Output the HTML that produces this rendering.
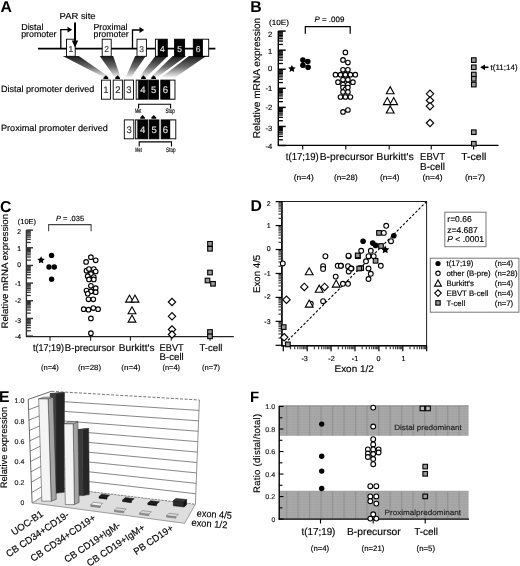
<!DOCTYPE html>
<html><head><meta charset="utf-8"><style>
html,body{margin:0;padding:0;background:#fff;}
svg{display:block;filter:grayscale(1);}
text{font-family:"Liberation Sans",sans-serif;text-rendering:geometricPrecision;}
</style></head><body>
<svg width="520" height="566" viewBox="0 0 520 566" font-family="Liberation Sans, sans-serif">
<rect width="520" height="566" fill="#fff"/>
<text x="0.6" y="11.8" font-size="15.6" font-weight="bold" textLength="11.4" lengthAdjust="spacingAndGlyphs" fill="#000" >A</text>
<text x="59.6" y="19.2" font-size="8.8" textLength="36" lengthAdjust="spacingAndGlyphs" fill="#000" stroke="#000" stroke-width="0.15" >PAR site</text>
<text x="21.2" y="29.9" font-size="8.8" textLength="22.3" lengthAdjust="spacingAndGlyphs" fill="#000" stroke="#000" stroke-width="0.15" >Distal</text>
<text x="21.2" y="37.3" font-size="8.8" textLength="35.3" lengthAdjust="spacingAndGlyphs" fill="#000" stroke="#000" stroke-width="0.15" >promoter</text>
<text x="93.5" y="30.0" font-size="8.8" textLength="34" lengthAdjust="spacingAndGlyphs" fill="#000" stroke="#000" stroke-width="0.15" >Proximal</text>
<text x="93.5" y="37.0" font-size="8.8" textLength="35.3" lengthAdjust="spacingAndGlyphs" fill="#000" stroke="#000" stroke-width="0.15" >promoter</text>
<defs><linearGradient id="shd" x1="0" y1="0" x2="0" y2="1"><stop offset="0" stop-color="#1a1a1a"/><stop offset="0.5" stop-color="#6a6a6a"/><stop offset="1" stop-color="#f4f4f4"/></linearGradient><pattern id="grid" width="3.2" height="3.2" patternUnits="userSpaceOnUse"><rect width="3.2" height="3.2" fill="#a8a8a8"/><path d="M0 0.4H3.2M0.4 0V3.2" stroke="#8a8a8a" stroke-width="0.8"/></pattern></defs>
<polygon points="62.70,56.00 78.80,56.00 109.80,77.50 104.40,77.50" fill="url(#shd)" stroke="none" stroke-width="1" />
<polygon points="99.70,56.00 113.20,56.00 120.60,77.50 115.00,77.50" fill="url(#shd)" stroke="none" stroke-width="1" />
<polygon points="135.20,56.00 145.80,56.00 131.00,77.50 125.60,77.50" fill="url(#shd)" stroke="none" stroke-width="1" />
<polygon points="155.40,56.00 167.90,56.00 146.00,77.50 139.00,77.50" fill="url(#shd)" stroke="none" stroke-width="1" />
<polygon points="172.70,56.00 186.20,56.00 157.00,77.50 150.60,77.50" fill="url(#shd)" stroke="none" stroke-width="1" />
<polygon points="189.00,56.00 206.30,56.00 175.00,77.50 161.00,77.50" fill="url(#shd)" stroke="none" stroke-width="1" />
<line x1="38.00" y1="48.60" x2="215.40" y2="48.60" stroke="#000" stroke-width="1.7" />
<path d="M60.8 48.6 V29.7 H68.5" fill="none" stroke="#000" stroke-width="1.3"/>
<polygon points="67.50,26.80 72.20,29.70 67.50,32.60" fill="#000" stroke="none" stroke-width="1" />
<path d="M132.5 48.6 V30 H140.5" fill="none" stroke="#000" stroke-width="1.3"/>
<polygon points="139.50,27.10 144.20,30.00 139.50,32.90" fill="#000" stroke="none" stroke-width="1" />
<rect x="66.50" y="39.20" width="8.70" height="17.10" fill="#fff" stroke="#000" stroke-width="0.9" />
<text x="70.85" y="51.6" font-size="8.5" text-anchor="middle" fill="#333" stroke="#333" stroke-width="0.15" >1</text>
<rect x="102.20" y="39.20" width="9.00" height="17.10" fill="#fff" stroke="#000" stroke-width="0.9" />
<text x="106.7" y="51.6" font-size="8.5" text-anchor="middle" fill="#333" stroke="#333" stroke-width="0.15" >2</text>
<rect x="137.00" y="39.20" width="9.40" height="17.10" fill="#fff" stroke="#000" stroke-width="0.9" />
<text x="141.7" y="51.6" font-size="8.5" text-anchor="middle" fill="#333" stroke="#333" stroke-width="0.15" >3</text>
<rect x="155.40" y="39.20" width="11.90" height="17.10" fill="#000" stroke="#000" stroke-width="0.9" />
<rect x="155.90" y="39.70" width="1.80" height="16.10" fill="#fff" stroke="none" stroke-width="1" />
<text x="162.35000000000002" y="51.6" font-size="8.5" text-anchor="middle" fill="#e0e0e0" stroke="#e0e0e0" stroke-width="0.15" >4</text>
<rect x="174.60" y="39.20" width="10.00" height="17.10" fill="#000" stroke="#000" stroke-width="0.9" />
<text x="179.6" y="51.6" font-size="8.5" text-anchor="middle" fill="#e0e0e0" stroke="#e0e0e0" stroke-width="0.15" >5</text>
<rect x="193.30" y="39.20" width="15.40" height="17.10" fill="#000" stroke="#000" stroke-width="0.9" />
<rect x="202.90" y="39.70" width="5.30" height="16.10" fill="#fff" stroke="none" stroke-width="1" />
<text x="198" y="51.6" font-size="8.5" text-anchor="middle" fill="#e0e0e0" stroke="#e0e0e0" stroke-width="0.15" >6</text>
<line x1="75.00" y1="22.50" x2="75.00" y2="42.00" stroke="#000" stroke-width="2" />
<polygon points="71.80,40.50 78.20,40.50 75.00,47.50" fill="#000" stroke="none" stroke-width="1" />
<rect x="101.50" y="80.10" width="8.90" height="19.10" fill="#fff" stroke="#000" stroke-width="0.9" />
<text x="105.95" y="93.0" font-size="9.5" text-anchor="middle" fill="#333" stroke="#333" stroke-width="0.15" >1</text>
<rect x="113.20" y="80.10" width="9.20" height="19.10" fill="#fff" stroke="#000" stroke-width="0.9" />
<text x="117.80000000000001" y="93.0" font-size="9.5" text-anchor="middle" fill="#333" stroke="#333" stroke-width="0.15" >2</text>
<rect x="124.20" y="80.10" width="9.30" height="19.10" fill="#fff" stroke="#000" stroke-width="0.9" />
<text x="128.85" y="93.0" font-size="9.5" text-anchor="middle" fill="#333" stroke="#333" stroke-width="0.15" >3</text>
<rect x="136.20" y="80.10" width="11.40" height="19.10" fill="#000" stroke="#000" stroke-width="0.9" />
<rect x="136.60" y="80.60" width="1.60" height="18.10" fill="#ddd" stroke="none" stroke-width="1" />
<text x="142.89999999999998" y="93.0" font-size="9.5" text-anchor="middle" fill="#e0e0e0" stroke="#e0e0e0" stroke-width="0.15" >4</text>
<rect x="148.80" y="80.10" width="9.60" height="19.10" fill="#000" stroke="#000" stroke-width="0.9" />
<text x="153.60000000000002" y="93.0" font-size="9.5" text-anchor="middle" fill="#e0e0e0" stroke="#e0e0e0" stroke-width="0.15" >5</text>
<rect x="160.80" y="80.10" width="14.20" height="19.10" fill="#000" stroke="#000" stroke-width="0.9" />
<rect x="170.20" y="80.60" width="4.30" height="18.10" fill="#fff" stroke="none" stroke-width="1" />
<text x="165.4" y="93.0" font-size="9.5" text-anchor="middle" fill="#e0e0e0" stroke="#e0e0e0" stroke-width="0.15" >6</text>
<polygon points="103.50,78.90 103.50,77.70 105.90,75.30 108.30,77.70 108.30,78.90" fill="#000" stroke="none" stroke-width="1" />
<polygon points="115.20,78.90 115.20,77.70 117.60,75.30 120.00,77.70 120.00,78.90" fill="#000" stroke="none" stroke-width="1" />
<polygon points="141.10,78.90 141.10,77.70 143.50,75.30 145.90,77.70 145.90,78.90" fill="#000" stroke="none" stroke-width="1" />
<polygon points="151.20,78.90 151.20,77.70 153.60,75.30 156.00,77.70 156.00,78.90" fill="#000" stroke="none" stroke-width="1" />
<path d="M138.6 108.6 V104.2 H170.6 V108.6" fill="none" stroke="#000" stroke-width="1.1"/>
<text x="138.1" y="112.6" font-size="6.6" text-anchor="middle" textLength="6.4" lengthAdjust="spacingAndGlyphs" fill="#000" stroke="#000" stroke-width="0.15" >Met</text>
<text x="170.2" y="112.6" font-size="6.6" text-anchor="middle" textLength="9.4" lengthAdjust="spacingAndGlyphs" fill="#000" stroke="#000" stroke-width="0.15" >Stop</text>
<text x="1.0" y="91.5" font-size="9.0" textLength="93.4" lengthAdjust="spacingAndGlyphs" fill="#000" stroke="#000" stroke-width="0.15" >Distal promoter derived</text>
<rect x="124.30" y="119.90" width="9.50" height="18.90" fill="#fff" stroke="#000" stroke-width="0.9" />
<text x="129.05" y="132.6" font-size="9.5" text-anchor="middle" fill="#333" stroke="#333" stroke-width="0.15" >3</text>
<rect x="135.40" y="119.90" width="12.30" height="18.90" fill="#000" stroke="#000" stroke-width="0.9" />
<rect x="135.80" y="120.40" width="1.60" height="17.90" fill="#ddd" stroke="none" stroke-width="1" />
<text x="142.55" y="132.6" font-size="9.5" text-anchor="middle" fill="#e0e0e0" stroke="#e0e0e0" stroke-width="0.15" >4</text>
<rect x="149.20" y="119.90" width="9.70" height="18.90" fill="#000" stroke="#000" stroke-width="0.9" />
<text x="154.05" y="132.6" font-size="9.5" text-anchor="middle" fill="#e0e0e0" stroke="#e0e0e0" stroke-width="0.15" >5</text>
<rect x="161.20" y="119.90" width="14.60" height="18.90" fill="#000" stroke="#000" stroke-width="0.9" />
<rect x="170.20" y="120.40" width="5.10" height="17.90" fill="#fff" stroke="none" stroke-width="1" />
<text x="165.4" y="132.6" font-size="9.5" text-anchor="middle" fill="#e0e0e0" stroke="#e0e0e0" stroke-width="0.15" >6</text>
<polygon points="140.20,118.70 140.20,117.50 142.60,115.10 145.00,117.50 145.00,118.70" fill="#000" stroke="none" stroke-width="1" />
<polygon points="151.40,118.70 151.40,117.50 153.80,115.10 156.20,117.50 156.20,118.70" fill="#000" stroke="none" stroke-width="1" />
<path d="M139.2 146.4 V141.9 H171.5 V146.4" fill="none" stroke="#000" stroke-width="1.1"/>
<text x="138.5" y="152.2" font-size="6.6" text-anchor="middle" textLength="6.4" lengthAdjust="spacingAndGlyphs" fill="#000" stroke="#000" stroke-width="0.15" >Met</text>
<text x="170.8" y="152.2" font-size="6.6" text-anchor="middle" textLength="9.4" lengthAdjust="spacingAndGlyphs" fill="#000" stroke="#000" stroke-width="0.15" >Stop</text>
<text x="1.0" y="131.0" font-size="9.0" textLength="106.9" lengthAdjust="spacingAndGlyphs" fill="#000" stroke="#000" stroke-width="0.15" >Proximal promoter derived</text>
<text x="250.2" y="11.6" font-size="15.8" font-weight="bold" fill="#000" >B</text>
<text x="269" y="24.9" font-size="7.6" textLength="20" lengthAdjust="spacingAndGlyphs" fill="#000" stroke="#000" stroke-width="0.15" >(10E)</text>
<line x1="278.30" y1="31.10" x2="278.30" y2="145.52" stroke="#000" stroke-width="1.4" />
<line x1="278.30" y1="139.78" x2="282.90" y2="139.78" stroke="#000" stroke-width="1.3" />
<line x1="278.30" y1="136.42" x2="282.90" y2="136.42" stroke="#000" stroke-width="1.3" />
<line x1="278.30" y1="134.04" x2="282.90" y2="134.04" stroke="#000" stroke-width="1.3" />
<line x1="278.30" y1="132.19" x2="282.90" y2="132.19" stroke="#000" stroke-width="1.3" />
<line x1="278.30" y1="130.68" x2="282.90" y2="130.68" stroke="#000" stroke-width="1.3" />
<line x1="278.30" y1="129.40" x2="282.90" y2="129.40" stroke="#000" stroke-width="1.3" />
<line x1="278.30" y1="128.30" x2="282.90" y2="128.30" stroke="#000" stroke-width="1.3" />
<line x1="278.30" y1="127.32" x2="282.90" y2="127.32" stroke="#000" stroke-width="1.3" />
<line x1="278.30" y1="120.71" x2="282.90" y2="120.71" stroke="#000" stroke-width="1.3" />
<line x1="278.30" y1="117.35" x2="282.90" y2="117.35" stroke="#000" stroke-width="1.3" />
<line x1="278.30" y1="114.97" x2="282.90" y2="114.97" stroke="#000" stroke-width="1.3" />
<line x1="278.30" y1="113.12" x2="282.90" y2="113.12" stroke="#000" stroke-width="1.3" />
<line x1="278.30" y1="111.61" x2="282.90" y2="111.61" stroke="#000" stroke-width="1.3" />
<line x1="278.30" y1="110.33" x2="282.90" y2="110.33" stroke="#000" stroke-width="1.3" />
<line x1="278.30" y1="109.23" x2="282.90" y2="109.23" stroke="#000" stroke-width="1.3" />
<line x1="278.30" y1="108.25" x2="282.90" y2="108.25" stroke="#000" stroke-width="1.3" />
<line x1="278.30" y1="101.64" x2="282.90" y2="101.64" stroke="#000" stroke-width="1.3" />
<line x1="278.30" y1="98.28" x2="282.90" y2="98.28" stroke="#000" stroke-width="1.3" />
<line x1="278.30" y1="95.90" x2="282.90" y2="95.90" stroke="#000" stroke-width="1.3" />
<line x1="278.30" y1="94.05" x2="282.90" y2="94.05" stroke="#000" stroke-width="1.3" />
<line x1="278.30" y1="92.54" x2="282.90" y2="92.54" stroke="#000" stroke-width="1.3" />
<line x1="278.30" y1="91.26" x2="282.90" y2="91.26" stroke="#000" stroke-width="1.3" />
<line x1="278.30" y1="90.16" x2="282.90" y2="90.16" stroke="#000" stroke-width="1.3" />
<line x1="278.30" y1="89.18" x2="282.90" y2="89.18" stroke="#000" stroke-width="1.3" />
<line x1="278.30" y1="82.57" x2="282.90" y2="82.57" stroke="#000" stroke-width="1.3" />
<line x1="278.30" y1="79.21" x2="282.90" y2="79.21" stroke="#000" stroke-width="1.3" />
<line x1="278.30" y1="76.83" x2="282.90" y2="76.83" stroke="#000" stroke-width="1.3" />
<line x1="278.30" y1="74.98" x2="282.90" y2="74.98" stroke="#000" stroke-width="1.3" />
<line x1="278.30" y1="73.47" x2="282.90" y2="73.47" stroke="#000" stroke-width="1.3" />
<line x1="278.30" y1="72.19" x2="282.90" y2="72.19" stroke="#000" stroke-width="1.3" />
<line x1="278.30" y1="71.09" x2="282.90" y2="71.09" stroke="#000" stroke-width="1.3" />
<line x1="278.30" y1="70.11" x2="282.90" y2="70.11" stroke="#000" stroke-width="1.3" />
<line x1="278.30" y1="63.50" x2="282.90" y2="63.50" stroke="#000" stroke-width="1.3" />
<line x1="278.30" y1="60.14" x2="282.90" y2="60.14" stroke="#000" stroke-width="1.3" />
<line x1="278.30" y1="57.76" x2="282.90" y2="57.76" stroke="#000" stroke-width="1.3" />
<line x1="278.30" y1="55.91" x2="282.90" y2="55.91" stroke="#000" stroke-width="1.3" />
<line x1="278.30" y1="54.40" x2="282.90" y2="54.40" stroke="#000" stroke-width="1.3" />
<line x1="278.30" y1="53.12" x2="282.90" y2="53.12" stroke="#000" stroke-width="1.3" />
<line x1="278.30" y1="52.02" x2="282.90" y2="52.02" stroke="#000" stroke-width="1.3" />
<line x1="278.30" y1="51.04" x2="282.90" y2="51.04" stroke="#000" stroke-width="1.3" />
<line x1="278.30" y1="44.43" x2="282.90" y2="44.43" stroke="#000" stroke-width="1.3" />
<line x1="278.30" y1="41.07" x2="282.90" y2="41.07" stroke="#000" stroke-width="1.3" />
<line x1="278.30" y1="38.69" x2="282.90" y2="38.69" stroke="#000" stroke-width="1.3" />
<line x1="278.30" y1="36.84" x2="282.90" y2="36.84" stroke="#000" stroke-width="1.3" />
<line x1="278.30" y1="35.33" x2="282.90" y2="35.33" stroke="#000" stroke-width="1.3" />
<line x1="278.30" y1="34.05" x2="282.90" y2="34.05" stroke="#000" stroke-width="1.3" />
<line x1="278.30" y1="32.95" x2="282.90" y2="32.95" stroke="#000" stroke-width="1.3" />
<line x1="278.30" y1="31.97" x2="282.90" y2="31.97" stroke="#000" stroke-width="1.3" />
<line x1="278.30" y1="145.52" x2="285.70" y2="145.52" stroke="#000" stroke-width="1.4300000000000002" />
<line x1="278.30" y1="126.45" x2="285.70" y2="126.45" stroke="#000" stroke-width="1.4300000000000002" />
<line x1="278.30" y1="107.38" x2="285.70" y2="107.38" stroke="#000" stroke-width="1.4300000000000002" />
<line x1="278.30" y1="88.31" x2="285.70" y2="88.31" stroke="#000" stroke-width="1.4300000000000002" />
<line x1="278.30" y1="69.24" x2="285.70" y2="69.24" stroke="#000" stroke-width="1.4300000000000002" />
<line x1="278.30" y1="50.17" x2="285.70" y2="50.17" stroke="#000" stroke-width="1.4300000000000002" />
<line x1="278.30" y1="31.10" x2="285.70" y2="31.10" stroke="#000" stroke-width="1.4300000000000002" />
<text x="272.2" y="36.5" font-size="7.6" text-anchor="end" fill="#000" stroke="#000" stroke-width="0.15" >2</text>
<text x="272.2" y="54.1" font-size="7.6" text-anchor="end" fill="#000" stroke="#000" stroke-width="0.15" >1</text>
<text x="272.2" y="71.3" font-size="7.6" text-anchor="end" fill="#000" stroke="#000" stroke-width="0.15" >0</text>
<text x="272.2" y="90.9" font-size="7.6" text-anchor="end" fill="#000" stroke="#000" stroke-width="0.15" >-1</text>
<text x="272.2" y="110.2" font-size="7.6" text-anchor="end" fill="#000" stroke="#000" stroke-width="0.15" >-2</text>
<text x="272.2" y="130.8" font-size="7.6" text-anchor="end" fill="#000" stroke="#000" stroke-width="0.15" >-3</text>
<text x="272.2" y="148.7" font-size="7.6" text-anchor="end" fill="#000" stroke="#000" stroke-width="0.15" >-4</text>
<line x1="277.70" y1="145.40" x2="498.50" y2="145.40" stroke="#000" stroke-width="1.3" />
<line x1="302.70" y1="145.00" x2="302.70" y2="149.50" stroke="#000" stroke-width="1.1" />
<line x1="345.80" y1="145.00" x2="345.80" y2="149.50" stroke="#000" stroke-width="1.1" />
<line x1="389.20" y1="145.00" x2="389.20" y2="149.50" stroke="#000" stroke-width="1.1" />
<line x1="431.20" y1="145.00" x2="431.20" y2="149.50" stroke="#000" stroke-width="1.1" />
<line x1="473.60" y1="145.00" x2="473.60" y2="149.50" stroke="#000" stroke-width="1.1" />
<text x="259.6" y="78" font-size="9.9" text-anchor="middle" textLength="120.5" lengthAdjust="spacingAndGlyphs" transform="rotate(-90 259.6 78)" font-family="Liberation Sans, sans-serif" stroke="#000" stroke-width="0.15">Relative mRNA expression</text>
<path d="M305.3 33.7 V26.6 H350.2 V33.7" fill="none" stroke="#000" stroke-width="1.2"/>
<text x="314.4" y="22.1" font-size="7.8" textLength="30" lengthAdjust="spacingAndGlyphs" font-family="Liberation Sans, sans-serif" stroke="#000" stroke-width="0.15"><tspan font-style="italic">P</tspan> = .009</text>
<polygon points="291.90,64.90 293.05,67.22 295.61,67.59 293.75,69.40 294.19,71.96 291.90,70.75 289.61,71.96 290.05,69.40 288.19,67.59 290.75,67.22" fill="#000" stroke="none" stroke-width="1" />
<circle cx="302.90" cy="60.10" r="2.8" fill="#000"/>
<circle cx="307.80" cy="61.50" r="2.8" fill="#000"/>
<circle cx="302.90" cy="65.30" r="2.8" fill="#000"/>
<circle cx="308.10" cy="67.30" r="2.8" fill="#000"/>
<circle cx="345.40" cy="52.40" r="2.3" fill="#fff" stroke="#000" stroke-width="1.1"/>
<circle cx="343.00" cy="59.90" r="2.3" fill="#fff" stroke="#000" stroke-width="1.1"/>
<circle cx="347.90" cy="62.60" r="2.3" fill="#fff" stroke="#000" stroke-width="1.1"/>
<circle cx="343.00" cy="69.80" r="2.3" fill="#fff" stroke="#000" stroke-width="1.1"/>
<circle cx="347.90" cy="69.80" r="2.3" fill="#fff" stroke="#000" stroke-width="1.1"/>
<circle cx="335.50" cy="74.70" r="2.3" fill="#fff" stroke="#000" stroke-width="1.1"/>
<circle cx="340.50" cy="74.70" r="2.3" fill="#fff" stroke="#000" stroke-width="1.1"/>
<circle cx="345.40" cy="74.70" r="2.3" fill="#fff" stroke="#000" stroke-width="1.1"/>
<circle cx="350.40" cy="74.70" r="2.3" fill="#fff" stroke="#000" stroke-width="1.1"/>
<circle cx="355.30" cy="74.70" r="2.3" fill="#fff" stroke="#000" stroke-width="1.1"/>
<circle cx="343.00" cy="79.70" r="2.3" fill="#fff" stroke="#000" stroke-width="1.1"/>
<circle cx="347.90" cy="79.70" r="2.3" fill="#fff" stroke="#000" stroke-width="1.1"/>
<circle cx="338.00" cy="82.20" r="2.3" fill="#fff" stroke="#000" stroke-width="1.1"/>
<circle cx="352.90" cy="82.20" r="2.3" fill="#fff" stroke="#000" stroke-width="1.1"/>
<circle cx="343.00" cy="84.60" r="2.3" fill="#fff" stroke="#000" stroke-width="1.1"/>
<circle cx="347.90" cy="84.60" r="2.3" fill="#fff" stroke="#000" stroke-width="1.1"/>
<circle cx="343.00" cy="87.50" r="2.3" fill="#fff" stroke="#000" stroke-width="1.1"/>
<circle cx="345.40" cy="89.50" r="2.3" fill="#fff" stroke="#000" stroke-width="1.1"/>
<circle cx="347.90" cy="87.50" r="2.3" fill="#fff" stroke="#000" stroke-width="1.1"/>
<circle cx="343.00" cy="92.00" r="2.3" fill="#fff" stroke="#000" stroke-width="1.1"/>
<circle cx="347.90" cy="92.00" r="2.3" fill="#fff" stroke="#000" stroke-width="1.1"/>
<circle cx="340.50" cy="97.00" r="2.3" fill="#fff" stroke="#000" stroke-width="1.1"/>
<circle cx="345.40" cy="97.00" r="2.3" fill="#fff" stroke="#000" stroke-width="1.1"/>
<circle cx="350.40" cy="97.00" r="2.3" fill="#fff" stroke="#000" stroke-width="1.1"/>
<circle cx="343.00" cy="111.90" r="2.3" fill="#fff" stroke="#000" stroke-width="1.1"/>
<circle cx="347.90" cy="110.00" r="2.3" fill="#fff" stroke="#000" stroke-width="1.1"/>
<polygon points="386.30,93.72 394.10,93.72 390.20,86.70" fill="#fff" stroke="#000" stroke-width="1.1" />
<polygon points="383.40,104.61 391.20,104.61 387.30,97.59" fill="#fff" stroke="#000" stroke-width="1.1" />
<polygon points="389.80,104.61 397.60,104.61 393.70,97.59" fill="#fff" stroke="#000" stroke-width="1.1" />
<polygon points="386.30,113.02 394.10,113.02 390.20,106.00" fill="#fff" stroke="#000" stroke-width="1.1" />
<polygon points="426.30,93.80 430.00,90.10 433.70,93.80 430.00,97.50" fill="#fff" stroke="#000" stroke-width="1.1" />
<polygon points="426.30,100.50 430.00,96.80 433.70,100.50 430.00,104.20" fill="#fff" stroke="#000" stroke-width="1.1" />
<polygon points="426.30,106.20 430.00,102.50 433.70,106.20 430.00,109.90" fill="#fff" stroke="#000" stroke-width="1.1" />
<polygon points="426.30,123.00 430.00,119.30 433.70,123.00 430.00,126.70" fill="#fff" stroke="#000" stroke-width="1.1" />
<rect x="471.50" y="57.80" width="4.60" height="4.60" fill="#999" stroke="#000" stroke-width="1.1" />
<rect x="471.50" y="65.00" width="4.60" height="4.60" fill="#999" stroke="#000" stroke-width="1.1" />
<rect x="471.50" y="72.20" width="4.60" height="4.60" fill="#999" stroke="#000" stroke-width="1.1" />
<rect x="471.50" y="76.50" width="4.60" height="4.60" fill="#999" stroke="#000" stroke-width="1.1" />
<rect x="471.50" y="82.30" width="4.60" height="4.60" fill="#999" stroke="#000" stroke-width="1.1" />
<rect x="471.50" y="129.90" width="4.60" height="4.60" fill="#999" stroke="#000" stroke-width="1.1" />
<rect x="471.50" y="141.40" width="4.60" height="4.60" fill="#999" stroke="#000" stroke-width="1.1" />
<line x1="482.50" y1="67.30" x2="488.50" y2="67.30" stroke="#000" stroke-width="1.6" />
<polygon points="480.20,67.30 485.00,64.40 485.00,70.20" fill="#000" stroke="none" stroke-width="1" />
<text x="490.6" y="70.0" font-size="7.8" textLength="27" lengthAdjust="spacingAndGlyphs" fill="#000" stroke="#000" stroke-width="0.15" >t(11;14)</text>
<text x="285.8" y="160.2" font-size="10.2" textLength="33" lengthAdjust="spacingAndGlyphs" fill="#000" stroke="#000" stroke-width="0.15" >t(17;19)</text>
<text x="319.7" y="160.2" font-size="10.2" textLength="53.8" lengthAdjust="spacingAndGlyphs" fill="#000" stroke="#000" stroke-width="0.15" >B-precursor</text>
<text x="376.3" y="160.2" font-size="10.2" textLength="37.5" lengthAdjust="spacingAndGlyphs" fill="#000" stroke="#000" stroke-width="0.15" >Burkitt's</text>
<text x="420" y="160.2" font-size="10.2" textLength="25" lengthAdjust="spacingAndGlyphs" fill="#000" stroke="#000" stroke-width="0.15" >EBVT</text>
<text x="461.3" y="160.2" font-size="10.2" textLength="25" lengthAdjust="spacingAndGlyphs" fill="#000" stroke="#000" stroke-width="0.15" >T-cell</text>
<text x="420" y="170.2" font-size="10.2" textLength="25" lengthAdjust="spacingAndGlyphs" fill="#000" stroke="#000" stroke-width="0.15" >B-cell</text>
<text x="293.8" y="180.3" font-size="7.8" textLength="20" lengthAdjust="spacingAndGlyphs" fill="#000" stroke="#000" stroke-width="0.15" >(n=4)</text>
<text x="334" y="180.3" font-size="7.8" textLength="23.7" lengthAdjust="spacingAndGlyphs" fill="#000" stroke="#000" stroke-width="0.15" >(n=28)</text>
<text x="380" y="180.3" font-size="7.8" textLength="19.5" lengthAdjust="spacingAndGlyphs" fill="#000" stroke="#000" stroke-width="0.15" >(n=4)</text>
<text x="422.5" y="180.3" font-size="7.8" textLength="20" lengthAdjust="spacingAndGlyphs" fill="#000" stroke="#000" stroke-width="0.15" >(n=4)</text>
<text x="465" y="180.3" font-size="7.8" textLength="20" lengthAdjust="spacingAndGlyphs" fill="#000" stroke="#000" stroke-width="0.15" >(n=7)</text>
<text x="0.0" y="211.6" font-size="15.8" font-weight="bold" fill="#000" >C</text>
<text x="17.8" y="224.2" font-size="7.2" textLength="18.3" lengthAdjust="spacingAndGlyphs" fill="#000" stroke="#000" stroke-width="0.15" >(10E)</text>
<line x1="26.40" y1="230.10" x2="26.40" y2="336.12" stroke="#333" stroke-width="1.4" />
<line x1="26.40" y1="330.80" x2="30.80" y2="330.80" stroke="#333" stroke-width="1.3" />
<line x1="26.40" y1="327.69" x2="30.80" y2="327.69" stroke="#333" stroke-width="1.3" />
<line x1="26.40" y1="325.48" x2="30.80" y2="325.48" stroke="#333" stroke-width="1.3" />
<line x1="26.40" y1="323.77" x2="30.80" y2="323.77" stroke="#333" stroke-width="1.3" />
<line x1="26.40" y1="322.37" x2="30.80" y2="322.37" stroke="#333" stroke-width="1.3" />
<line x1="26.40" y1="321.19" x2="30.80" y2="321.19" stroke="#333" stroke-width="1.3" />
<line x1="26.40" y1="320.16" x2="30.80" y2="320.16" stroke="#333" stroke-width="1.3" />
<line x1="26.40" y1="319.26" x2="30.80" y2="319.26" stroke="#333" stroke-width="1.3" />
<line x1="26.40" y1="313.13" x2="30.80" y2="313.13" stroke="#333" stroke-width="1.3" />
<line x1="26.40" y1="310.02" x2="30.80" y2="310.02" stroke="#333" stroke-width="1.3" />
<line x1="26.40" y1="307.81" x2="30.80" y2="307.81" stroke="#333" stroke-width="1.3" />
<line x1="26.40" y1="306.10" x2="30.80" y2="306.10" stroke="#333" stroke-width="1.3" />
<line x1="26.40" y1="304.70" x2="30.80" y2="304.70" stroke="#333" stroke-width="1.3" />
<line x1="26.40" y1="303.52" x2="30.80" y2="303.52" stroke="#333" stroke-width="1.3" />
<line x1="26.40" y1="302.49" x2="30.80" y2="302.49" stroke="#333" stroke-width="1.3" />
<line x1="26.40" y1="301.59" x2="30.80" y2="301.59" stroke="#333" stroke-width="1.3" />
<line x1="26.40" y1="295.46" x2="30.80" y2="295.46" stroke="#333" stroke-width="1.3" />
<line x1="26.40" y1="292.35" x2="30.80" y2="292.35" stroke="#333" stroke-width="1.3" />
<line x1="26.40" y1="290.14" x2="30.80" y2="290.14" stroke="#333" stroke-width="1.3" />
<line x1="26.40" y1="288.43" x2="30.80" y2="288.43" stroke="#333" stroke-width="1.3" />
<line x1="26.40" y1="287.03" x2="30.80" y2="287.03" stroke="#333" stroke-width="1.3" />
<line x1="26.40" y1="285.85" x2="30.80" y2="285.85" stroke="#333" stroke-width="1.3" />
<line x1="26.40" y1="284.82" x2="30.80" y2="284.82" stroke="#333" stroke-width="1.3" />
<line x1="26.40" y1="283.92" x2="30.80" y2="283.92" stroke="#333" stroke-width="1.3" />
<line x1="26.40" y1="277.79" x2="30.80" y2="277.79" stroke="#333" stroke-width="1.3" />
<line x1="26.40" y1="274.68" x2="30.80" y2="274.68" stroke="#333" stroke-width="1.3" />
<line x1="26.40" y1="272.47" x2="30.80" y2="272.47" stroke="#333" stroke-width="1.3" />
<line x1="26.40" y1="270.76" x2="30.80" y2="270.76" stroke="#333" stroke-width="1.3" />
<line x1="26.40" y1="269.36" x2="30.80" y2="269.36" stroke="#333" stroke-width="1.3" />
<line x1="26.40" y1="268.18" x2="30.80" y2="268.18" stroke="#333" stroke-width="1.3" />
<line x1="26.40" y1="267.15" x2="30.80" y2="267.15" stroke="#333" stroke-width="1.3" />
<line x1="26.40" y1="266.25" x2="30.80" y2="266.25" stroke="#333" stroke-width="1.3" />
<line x1="26.40" y1="260.12" x2="30.80" y2="260.12" stroke="#333" stroke-width="1.3" />
<line x1="26.40" y1="257.01" x2="30.80" y2="257.01" stroke="#333" stroke-width="1.3" />
<line x1="26.40" y1="254.80" x2="30.80" y2="254.80" stroke="#333" stroke-width="1.3" />
<line x1="26.40" y1="253.09" x2="30.80" y2="253.09" stroke="#333" stroke-width="1.3" />
<line x1="26.40" y1="251.69" x2="30.80" y2="251.69" stroke="#333" stroke-width="1.3" />
<line x1="26.40" y1="250.51" x2="30.80" y2="250.51" stroke="#333" stroke-width="1.3" />
<line x1="26.40" y1="249.48" x2="30.80" y2="249.48" stroke="#333" stroke-width="1.3" />
<line x1="26.40" y1="248.58" x2="30.80" y2="248.58" stroke="#333" stroke-width="1.3" />
<line x1="26.40" y1="242.45" x2="30.80" y2="242.45" stroke="#333" stroke-width="1.3" />
<line x1="26.40" y1="239.34" x2="30.80" y2="239.34" stroke="#333" stroke-width="1.3" />
<line x1="26.40" y1="237.13" x2="30.80" y2="237.13" stroke="#333" stroke-width="1.3" />
<line x1="26.40" y1="235.42" x2="30.80" y2="235.42" stroke="#333" stroke-width="1.3" />
<line x1="26.40" y1="234.02" x2="30.80" y2="234.02" stroke="#333" stroke-width="1.3" />
<line x1="26.40" y1="232.84" x2="30.80" y2="232.84" stroke="#333" stroke-width="1.3" />
<line x1="26.40" y1="231.81" x2="30.80" y2="231.81" stroke="#333" stroke-width="1.3" />
<line x1="26.40" y1="230.91" x2="30.80" y2="230.91" stroke="#333" stroke-width="1.3" />
<line x1="26.40" y1="336.12" x2="33.00" y2="336.12" stroke="#333" stroke-width="1.4300000000000002" />
<line x1="26.40" y1="318.45" x2="33.00" y2="318.45" stroke="#333" stroke-width="1.4300000000000002" />
<line x1="26.40" y1="300.78" x2="33.00" y2="300.78" stroke="#333" stroke-width="1.4300000000000002" />
<line x1="26.40" y1="283.11" x2="33.00" y2="283.11" stroke="#333" stroke-width="1.4300000000000002" />
<line x1="26.40" y1="265.44" x2="33.00" y2="265.44" stroke="#333" stroke-width="1.4300000000000002" />
<line x1="26.40" y1="247.77" x2="33.00" y2="247.77" stroke="#333" stroke-width="1.4300000000000002" />
<line x1="26.40" y1="230.10" x2="33.00" y2="230.10" stroke="#333" stroke-width="1.4300000000000002" />
<text x="21.0" y="234.4" font-size="6.8" text-anchor="end" fill="#000" stroke="#000" stroke-width="0.15" >2</text>
<text x="21.0" y="250.6" font-size="6.8" text-anchor="end" fill="#000" stroke="#000" stroke-width="0.15" >1</text>
<text x="21.0" y="266.8" font-size="6.8" text-anchor="end" fill="#000" stroke="#000" stroke-width="0.15" >0</text>
<text x="21.0" y="286.1" font-size="6.8" text-anchor="end" fill="#000" stroke="#000" stroke-width="0.15" >-1</text>
<text x="21.0" y="303.3" font-size="6.8" text-anchor="end" fill="#000" stroke="#000" stroke-width="0.15" >-2</text>
<text x="21.0" y="322.6" font-size="6.8" text-anchor="end" fill="#000" stroke="#000" stroke-width="0.15" >-3</text>
<text x="21.0" y="338.8" font-size="6.8" text-anchor="end" fill="#000" stroke="#000" stroke-width="0.15" >-4</text>
<line x1="25.80" y1="336.60" x2="233.80" y2="336.60" stroke="#222" stroke-width="1.3" />
<line x1="50.00" y1="336.60" x2="50.00" y2="340.80" stroke="#222" stroke-width="1.1" />
<line x1="90.60" y1="336.60" x2="90.60" y2="340.80" stroke="#222" stroke-width="1.1" />
<line x1="130.40" y1="336.60" x2="130.40" y2="340.80" stroke="#222" stroke-width="1.1" />
<line x1="171.30" y1="336.60" x2="171.30" y2="340.80" stroke="#222" stroke-width="1.1" />
<line x1="210.00" y1="336.60" x2="210.00" y2="340.80" stroke="#222" stroke-width="1.1" />
<text x="8" y="271.2" font-size="9.4" text-anchor="middle" textLength="114.5" lengthAdjust="spacingAndGlyphs" transform="rotate(-90 8 271.2)" font-family="Liberation Sans, sans-serif" stroke="#000" stroke-width="0.15">Relative mRNA expression</text>
<path d="M48.65 231.3 V224.65 H91.1 V231.3" fill="none" stroke="#444" stroke-width="1.1"/>
<text x="55.9" y="221" font-size="7.4" textLength="28.3" lengthAdjust="spacingAndGlyphs" font-family="Liberation Sans, sans-serif" stroke="#000" stroke-width="0.15"><tspan font-style="italic">P</tspan> = .035</text>
<polygon points="41.10,256.30 42.25,258.62 44.81,258.99 42.95,260.80 43.39,263.36 41.10,262.15 38.81,263.36 39.25,260.80 37.39,258.99 39.95,258.62" fill="#000" stroke="none" stroke-width="1" />
<circle cx="51.60" cy="255.40" r="2.7" fill="#000"/>
<circle cx="49.00" cy="267.00" r="2.7" fill="#000"/>
<circle cx="54.30" cy="267.00" r="2.7" fill="#000"/>
<circle cx="51.60" cy="279.20" r="2.7" fill="#000"/>
<circle cx="90.90" cy="257.20" r="2.3" fill="#fff" stroke="#000" stroke-width="1.1"/>
<circle cx="86.10" cy="261.90" r="2.3" fill="#fff" stroke="#000" stroke-width="1.1"/>
<circle cx="95.70" cy="260.30" r="2.3" fill="#fff" stroke="#000" stroke-width="1.1"/>
<circle cx="86.50" cy="270.70" r="2.3" fill="#fff" stroke="#000" stroke-width="1.1"/>
<circle cx="89.00" cy="269.00" r="2.3" fill="#fff" stroke="#000" stroke-width="1.1"/>
<circle cx="93.80" cy="269.00" r="2.3" fill="#fff" stroke="#000" stroke-width="1.1"/>
<circle cx="95.70" cy="271.50" r="2.3" fill="#fff" stroke="#000" stroke-width="1.1"/>
<circle cx="90.90" cy="273.90" r="2.3" fill="#fff" stroke="#000" stroke-width="1.1"/>
<circle cx="87.70" cy="276.20" r="2.3" fill="#fff" stroke="#000" stroke-width="1.1"/>
<circle cx="93.80" cy="277.00" r="2.3" fill="#fff" stroke="#000" stroke-width="1.1"/>
<circle cx="89.00" cy="279.40" r="2.3" fill="#fff" stroke="#000" stroke-width="1.1"/>
<circle cx="93.80" cy="279.40" r="2.3" fill="#fff" stroke="#000" stroke-width="1.1"/>
<circle cx="90.90" cy="285.80" r="2.3" fill="#fff" stroke="#000" stroke-width="1.1"/>
<circle cx="95.70" cy="288.20" r="2.3" fill="#fff" stroke="#000" stroke-width="1.1"/>
<circle cx="86.50" cy="290.50" r="2.3" fill="#fff" stroke="#000" stroke-width="1.1"/>
<circle cx="90.90" cy="291.40" r="2.3" fill="#fff" stroke="#000" stroke-width="1.1"/>
<circle cx="95.70" cy="292.20" r="2.3" fill="#fff" stroke="#000" stroke-width="1.1"/>
<circle cx="87.70" cy="293.70" r="2.3" fill="#fff" stroke="#000" stroke-width="1.1"/>
<circle cx="88.50" cy="299.30" r="2.3" fill="#fff" stroke="#000" stroke-width="1.1"/>
<circle cx="93.30" cy="299.30" r="2.3" fill="#fff" stroke="#000" stroke-width="1.1"/>
<circle cx="83.70" cy="309.20" r="2.3" fill="#fff" stroke="#000" stroke-width="1.1"/>
<circle cx="88.50" cy="309.70" r="2.3" fill="#fff" stroke="#000" stroke-width="1.1"/>
<circle cx="93.30" cy="308.10" r="2.3" fill="#fff" stroke="#000" stroke-width="1.1"/>
<circle cx="98.10" cy="309.20" r="2.3" fill="#fff" stroke="#000" stroke-width="1.1"/>
<circle cx="90.90" cy="318.40" r="2.3" fill="#fff" stroke="#000" stroke-width="1.1"/>
<circle cx="90.90" cy="333.20" r="2.3" fill="#fff" stroke="#000" stroke-width="1.1"/>
<polygon points="125.60,302.12 133.40,302.12 129.50,295.10" fill="#fff" stroke="#000" stroke-width="1.1" />
<polygon points="131.10,302.12 138.90,302.12 135.00,295.10" fill="#fff" stroke="#000" stroke-width="1.1" />
<polygon points="128.10,313.81 135.90,313.81 132.00,306.80" fill="#fff" stroke="#000" stroke-width="1.1" />
<polygon points="128.10,322.12 135.90,322.12 132.00,315.10" fill="#fff" stroke="#000" stroke-width="1.1" />
<polygon points="168.30,302.00 172.00,298.30 175.70,302.00 172.00,305.70" fill="#fff" stroke="#000" stroke-width="1.1" />
<polygon points="168.30,316.30 172.00,312.60 175.70,316.30 172.00,320.00" fill="#fff" stroke="#000" stroke-width="1.1" />
<polygon points="168.30,329.50 172.00,325.80 175.70,329.50 172.00,333.20" fill="#fff" stroke="#000" stroke-width="1.1" />
<polygon points="168.30,334.50 172.00,330.80 175.70,334.50 172.00,338.20" fill="#fff" stroke="#000" stroke-width="1.1" />
<rect x="207.70" y="241.50" width="4.60" height="4.60" fill="#999" stroke="#000" stroke-width="1.1" />
<rect x="207.70" y="246.50" width="4.60" height="4.60" fill="#999" stroke="#000" stroke-width="1.1" />
<rect x="207.70" y="270.20" width="4.60" height="4.60" fill="#999" stroke="#000" stroke-width="1.1" />
<rect x="205.20" y="278.20" width="4.60" height="4.60" fill="#999" stroke="#000" stroke-width="1.1" />
<rect x="210.70" y="281.50" width="4.60" height="4.60" fill="#999" stroke="#000" stroke-width="1.1" />
<rect x="207.70" y="329.70" width="4.60" height="4.60" fill="#999" stroke="#000" stroke-width="1.1" />
<rect x="207.70" y="334.00" width="4.60" height="4.60" fill="#999" stroke="#000" stroke-width="1.1" />
<text x="33" y="351.0" font-size="9.8" textLength="31.1" lengthAdjust="spacingAndGlyphs" fill="#000" stroke="#000" stroke-width="0.15" >t(17;19)</text>
<text x="64.8" y="351.0" font-size="9.8" textLength="50.1" lengthAdjust="spacingAndGlyphs" fill="#000" stroke="#000" stroke-width="0.15" >B-precursor</text>
<text x="118.75" y="351.0" font-size="9.8" textLength="35.75" lengthAdjust="spacingAndGlyphs" fill="#000" stroke="#000" stroke-width="0.15" >Burkitt's</text>
<text x="159.5" y="351.0" font-size="9.8" textLength="24.25" lengthAdjust="spacingAndGlyphs" fill="#000" stroke="#000" stroke-width="0.15" >EBVT</text>
<text x="199.5" y="351.0" font-size="9.8" textLength="23" lengthAdjust="spacingAndGlyphs" fill="#000" stroke="#000" stroke-width="0.15" >T-cell</text>
<text x="159.5" y="360.2" font-size="9.8" textLength="24.25" lengthAdjust="spacingAndGlyphs" fill="#000" stroke="#000" stroke-width="0.15" >B-cell</text>
<text x="40.9" y="370.0" font-size="7.5" textLength="17.9" lengthAdjust="spacingAndGlyphs" fill="#000" stroke="#000" stroke-width="0.15" >(n=4)</text>
<text x="77.9" y="370.0" font-size="7.5" textLength="23.3" lengthAdjust="spacingAndGlyphs" fill="#000" stroke="#000" stroke-width="0.15" >(n=28)</text>
<text x="121.25" y="370.0" font-size="7.5" textLength="19.25" lengthAdjust="spacingAndGlyphs" fill="#000" stroke="#000" stroke-width="0.15" >(n=4)</text>
<text x="162.5" y="370.0" font-size="7.5" textLength="17.5" lengthAdjust="spacingAndGlyphs" fill="#000" stroke="#000" stroke-width="0.15" >(n=4)</text>
<text x="202" y="370.0" font-size="7.5" textLength="18" lengthAdjust="spacingAndGlyphs" fill="#000" stroke="#000" stroke-width="0.15" >(n=7)</text>
<text x="250.6" y="211.4" font-size="15.8" font-weight="bold" fill="#000" >D</text>
<rect x="281.90" y="201.50" width="144.70" height="144.10" fill="none" stroke="#222" stroke-width="1.0" />
<line x1="281.90" y1="201.00" x2="281.90" y2="346.30" stroke="#000" stroke-width="1.5" />
<line x1="281.20" y1="345.80" x2="427.00" y2="345.80" stroke="#000" stroke-width="1.5" />
<line x1="281.90" y1="338.09" x2="278.40" y2="338.09" stroke="#444" stroke-width="1.2" />
<line x1="281.90" y1="333.87" x2="278.40" y2="333.87" stroke="#444" stroke-width="1.2" />
<line x1="281.90" y1="330.88" x2="278.40" y2="330.88" stroke="#444" stroke-width="1.2" />
<line x1="281.90" y1="328.56" x2="278.40" y2="328.56" stroke="#444" stroke-width="1.2" />
<line x1="281.90" y1="326.66" x2="278.40" y2="326.66" stroke="#444" stroke-width="1.2" />
<line x1="281.90" y1="325.06" x2="278.40" y2="325.06" stroke="#444" stroke-width="1.2" />
<line x1="281.90" y1="323.67" x2="278.40" y2="323.67" stroke="#444" stroke-width="1.2" />
<line x1="281.90" y1="322.45" x2="278.40" y2="322.45" stroke="#444" stroke-width="1.2" />
<line x1="281.90" y1="314.14" x2="278.40" y2="314.14" stroke="#444" stroke-width="1.2" />
<line x1="281.90" y1="309.92" x2="278.40" y2="309.92" stroke="#444" stroke-width="1.2" />
<line x1="281.90" y1="306.93" x2="278.40" y2="306.93" stroke="#444" stroke-width="1.2" />
<line x1="281.90" y1="304.61" x2="278.40" y2="304.61" stroke="#444" stroke-width="1.2" />
<line x1="281.90" y1="302.71" x2="278.40" y2="302.71" stroke="#444" stroke-width="1.2" />
<line x1="281.90" y1="301.11" x2="278.40" y2="301.11" stroke="#444" stroke-width="1.2" />
<line x1="281.90" y1="299.72" x2="278.40" y2="299.72" stroke="#444" stroke-width="1.2" />
<line x1="281.90" y1="298.50" x2="278.40" y2="298.50" stroke="#444" stroke-width="1.2" />
<line x1="281.90" y1="290.19" x2="278.40" y2="290.19" stroke="#444" stroke-width="1.2" />
<line x1="281.90" y1="285.97" x2="278.40" y2="285.97" stroke="#444" stroke-width="1.2" />
<line x1="281.90" y1="282.98" x2="278.40" y2="282.98" stroke="#444" stroke-width="1.2" />
<line x1="281.90" y1="280.66" x2="278.40" y2="280.66" stroke="#444" stroke-width="1.2" />
<line x1="281.90" y1="278.76" x2="278.40" y2="278.76" stroke="#444" stroke-width="1.2" />
<line x1="281.90" y1="277.16" x2="278.40" y2="277.16" stroke="#444" stroke-width="1.2" />
<line x1="281.90" y1="275.77" x2="278.40" y2="275.77" stroke="#444" stroke-width="1.2" />
<line x1="281.90" y1="274.55" x2="278.40" y2="274.55" stroke="#444" stroke-width="1.2" />
<line x1="281.90" y1="266.24" x2="278.40" y2="266.24" stroke="#444" stroke-width="1.2" />
<line x1="281.90" y1="262.02" x2="278.40" y2="262.02" stroke="#444" stroke-width="1.2" />
<line x1="281.90" y1="259.03" x2="278.40" y2="259.03" stroke="#444" stroke-width="1.2" />
<line x1="281.90" y1="256.71" x2="278.40" y2="256.71" stroke="#444" stroke-width="1.2" />
<line x1="281.90" y1="254.81" x2="278.40" y2="254.81" stroke="#444" stroke-width="1.2" />
<line x1="281.90" y1="253.21" x2="278.40" y2="253.21" stroke="#444" stroke-width="1.2" />
<line x1="281.90" y1="251.82" x2="278.40" y2="251.82" stroke="#444" stroke-width="1.2" />
<line x1="281.90" y1="250.60" x2="278.40" y2="250.60" stroke="#444" stroke-width="1.2" />
<line x1="281.90" y1="242.29" x2="278.40" y2="242.29" stroke="#444" stroke-width="1.2" />
<line x1="281.90" y1="238.07" x2="278.40" y2="238.07" stroke="#444" stroke-width="1.2" />
<line x1="281.90" y1="235.08" x2="278.40" y2="235.08" stroke="#444" stroke-width="1.2" />
<line x1="281.90" y1="232.76" x2="278.40" y2="232.76" stroke="#444" stroke-width="1.2" />
<line x1="281.90" y1="230.86" x2="278.40" y2="230.86" stroke="#444" stroke-width="1.2" />
<line x1="281.90" y1="229.26" x2="278.40" y2="229.26" stroke="#444" stroke-width="1.2" />
<line x1="281.90" y1="227.87" x2="278.40" y2="227.87" stroke="#444" stroke-width="1.2" />
<line x1="281.90" y1="226.65" x2="278.40" y2="226.65" stroke="#444" stroke-width="1.2" />
<line x1="281.90" y1="218.34" x2="278.40" y2="218.34" stroke="#444" stroke-width="1.2" />
<line x1="281.90" y1="214.12" x2="278.40" y2="214.12" stroke="#444" stroke-width="1.2" />
<line x1="281.90" y1="211.13" x2="278.40" y2="211.13" stroke="#444" stroke-width="1.2" />
<line x1="281.90" y1="208.81" x2="278.40" y2="208.81" stroke="#444" stroke-width="1.2" />
<line x1="281.90" y1="206.91" x2="278.40" y2="206.91" stroke="#444" stroke-width="1.2" />
<line x1="281.90" y1="205.31" x2="278.40" y2="205.31" stroke="#444" stroke-width="1.2" />
<line x1="281.90" y1="203.92" x2="278.40" y2="203.92" stroke="#444" stroke-width="1.2" />
<line x1="281.90" y1="202.70" x2="278.40" y2="202.70" stroke="#444" stroke-width="1.2" />
<line x1="281.90" y1="345.30" x2="275.60" y2="345.30" stroke="#000" stroke-width="1.2" />
<line x1="281.90" y1="321.35" x2="275.60" y2="321.35" stroke="#000" stroke-width="1.2" />
<line x1="281.90" y1="297.40" x2="275.60" y2="297.40" stroke="#000" stroke-width="1.2" />
<line x1="281.90" y1="273.45" x2="275.60" y2="273.45" stroke="#000" stroke-width="1.2" />
<line x1="281.90" y1="249.50" x2="275.60" y2="249.50" stroke="#000" stroke-width="1.2" />
<line x1="281.90" y1="225.55" x2="275.60" y2="225.55" stroke="#000" stroke-width="1.2" />
<line x1="281.90" y1="201.60" x2="275.60" y2="201.60" stroke="#000" stroke-width="1.2" />
<line x1="290.49" y1="345.80" x2="290.49" y2="349.30" stroke="#444" stroke-width="1.2" />
<line x1="294.70" y1="345.80" x2="294.70" y2="349.30" stroke="#444" stroke-width="1.2" />
<line x1="297.69" y1="345.80" x2="297.69" y2="349.30" stroke="#444" stroke-width="1.2" />
<line x1="300.01" y1="345.80" x2="300.01" y2="349.30" stroke="#444" stroke-width="1.2" />
<line x1="301.90" y1="345.80" x2="301.90" y2="349.30" stroke="#444" stroke-width="1.2" />
<line x1="303.50" y1="345.80" x2="303.50" y2="349.30" stroke="#444" stroke-width="1.2" />
<line x1="304.88" y1="345.80" x2="304.88" y2="349.30" stroke="#444" stroke-width="1.2" />
<line x1="306.11" y1="345.80" x2="306.11" y2="349.30" stroke="#444" stroke-width="1.2" />
<line x1="314.39" y1="345.80" x2="314.39" y2="349.30" stroke="#444" stroke-width="1.2" />
<line x1="318.60" y1="345.80" x2="318.60" y2="349.30" stroke="#444" stroke-width="1.2" />
<line x1="321.59" y1="345.80" x2="321.59" y2="349.30" stroke="#444" stroke-width="1.2" />
<line x1="323.91" y1="345.80" x2="323.91" y2="349.30" stroke="#444" stroke-width="1.2" />
<line x1="325.80" y1="345.80" x2="325.80" y2="349.30" stroke="#444" stroke-width="1.2" />
<line x1="327.40" y1="345.80" x2="327.40" y2="349.30" stroke="#444" stroke-width="1.2" />
<line x1="328.78" y1="345.80" x2="328.78" y2="349.30" stroke="#444" stroke-width="1.2" />
<line x1="330.01" y1="345.80" x2="330.01" y2="349.30" stroke="#444" stroke-width="1.2" />
<line x1="338.29" y1="345.80" x2="338.29" y2="349.30" stroke="#444" stroke-width="1.2" />
<line x1="342.50" y1="345.80" x2="342.50" y2="349.30" stroke="#444" stroke-width="1.2" />
<line x1="345.49" y1="345.80" x2="345.49" y2="349.30" stroke="#444" stroke-width="1.2" />
<line x1="347.81" y1="345.80" x2="347.81" y2="349.30" stroke="#444" stroke-width="1.2" />
<line x1="349.70" y1="345.80" x2="349.70" y2="349.30" stroke="#444" stroke-width="1.2" />
<line x1="351.30" y1="345.80" x2="351.30" y2="349.30" stroke="#444" stroke-width="1.2" />
<line x1="352.68" y1="345.80" x2="352.68" y2="349.30" stroke="#444" stroke-width="1.2" />
<line x1="353.91" y1="345.80" x2="353.91" y2="349.30" stroke="#444" stroke-width="1.2" />
<line x1="362.19" y1="345.80" x2="362.19" y2="349.30" stroke="#444" stroke-width="1.2" />
<line x1="366.40" y1="345.80" x2="366.40" y2="349.30" stroke="#444" stroke-width="1.2" />
<line x1="369.39" y1="345.80" x2="369.39" y2="349.30" stroke="#444" stroke-width="1.2" />
<line x1="371.71" y1="345.80" x2="371.71" y2="349.30" stroke="#444" stroke-width="1.2" />
<line x1="373.60" y1="345.80" x2="373.60" y2="349.30" stroke="#444" stroke-width="1.2" />
<line x1="375.20" y1="345.80" x2="375.20" y2="349.30" stroke="#444" stroke-width="1.2" />
<line x1="376.58" y1="345.80" x2="376.58" y2="349.30" stroke="#444" stroke-width="1.2" />
<line x1="377.81" y1="345.80" x2="377.81" y2="349.30" stroke="#444" stroke-width="1.2" />
<line x1="386.09" y1="345.80" x2="386.09" y2="349.30" stroke="#444" stroke-width="1.2" />
<line x1="390.30" y1="345.80" x2="390.30" y2="349.30" stroke="#444" stroke-width="1.2" />
<line x1="393.29" y1="345.80" x2="393.29" y2="349.30" stroke="#444" stroke-width="1.2" />
<line x1="395.61" y1="345.80" x2="395.61" y2="349.30" stroke="#444" stroke-width="1.2" />
<line x1="397.50" y1="345.80" x2="397.50" y2="349.30" stroke="#444" stroke-width="1.2" />
<line x1="399.10" y1="345.80" x2="399.10" y2="349.30" stroke="#444" stroke-width="1.2" />
<line x1="400.48" y1="345.80" x2="400.48" y2="349.30" stroke="#444" stroke-width="1.2" />
<line x1="401.71" y1="345.80" x2="401.71" y2="349.30" stroke="#444" stroke-width="1.2" />
<line x1="409.99" y1="345.80" x2="409.99" y2="349.30" stroke="#444" stroke-width="1.2" />
<line x1="414.20" y1="345.80" x2="414.20" y2="349.30" stroke="#444" stroke-width="1.2" />
<line x1="417.19" y1="345.80" x2="417.19" y2="349.30" stroke="#444" stroke-width="1.2" />
<line x1="419.51" y1="345.80" x2="419.51" y2="349.30" stroke="#444" stroke-width="1.2" />
<line x1="421.40" y1="345.80" x2="421.40" y2="349.30" stroke="#444" stroke-width="1.2" />
<line x1="423.00" y1="345.80" x2="423.00" y2="349.30" stroke="#444" stroke-width="1.2" />
<line x1="424.38" y1="345.80" x2="424.38" y2="349.30" stroke="#444" stroke-width="1.2" />
<line x1="425.61" y1="345.80" x2="425.61" y2="349.30" stroke="#444" stroke-width="1.2" />
<line x1="283.30" y1="345.80" x2="283.30" y2="351.20" stroke="#000" stroke-width="1.2" />
<line x1="307.20" y1="345.80" x2="307.20" y2="351.20" stroke="#000" stroke-width="1.2" />
<line x1="331.10" y1="345.80" x2="331.10" y2="351.20" stroke="#000" stroke-width="1.2" />
<line x1="355.00" y1="345.80" x2="355.00" y2="351.20" stroke="#000" stroke-width="1.2" />
<line x1="378.90" y1="345.80" x2="378.90" y2="351.20" stroke="#000" stroke-width="1.2" />
<line x1="402.80" y1="345.80" x2="402.80" y2="351.20" stroke="#000" stroke-width="1.2" />
<line x1="426.70" y1="345.80" x2="426.70" y2="351.20" stroke="#000" stroke-width="1.2" />
<text x="270.6" y="205.6" font-size="7.0" text-anchor="end" fill="#000" stroke="#000" stroke-width="0.15" >2</text>
<text x="270.6" y="227.9" font-size="7.0" text-anchor="end" fill="#000" stroke="#000" stroke-width="0.15" >1</text>
<text x="270.6" y="250.6" font-size="7.0" text-anchor="end" fill="#000" stroke="#000" stroke-width="0.15" >0</text>
<text x="270.6" y="276.0" font-size="7.0" text-anchor="end" fill="#000" stroke="#000" stroke-width="0.15" >-1</text>
<text x="270.6" y="298.9" font-size="7.0" text-anchor="end" fill="#000" stroke="#000" stroke-width="0.15" >-2</text>
<text x="270.6" y="323.6" font-size="7.0" text-anchor="end" fill="#000" stroke="#000" stroke-width="0.15" >-3</text>
<text x="304.6" y="360.6" font-size="7.2" text-anchor="middle" fill="#000" stroke="#000" stroke-width="0.15" >-3</text>
<text x="331.5" y="360.6" font-size="7.2" text-anchor="middle" fill="#000" stroke="#000" stroke-width="0.15" >-2</text>
<text x="355" y="360.6" font-size="7.2" text-anchor="middle" fill="#000" stroke="#000" stroke-width="0.15" >-1</text>
<text x="378.4" y="360.6" font-size="7.2" text-anchor="middle" fill="#000" stroke="#000" stroke-width="0.15" >0</text>
<text x="403.5" y="360.6" font-size="7.2" text-anchor="middle" fill="#000" stroke="#000" stroke-width="0.15" >1</text>
<text x="334.5" y="372.0" font-size="9.6" textLength="39.25" lengthAdjust="spacingAndGlyphs" fill="#000" stroke="#000" stroke-width="0.15" >Exon 1/2</text>
<text x="260.4" y="273.9" font-size="9.7" text-anchor="middle" transform="rotate(-90 260.4 273.9)" font-family="Liberation Sans, sans-serif" stroke="#000" stroke-width="0.15">Exon 4/5</text>
<line x1="426.6" y1="201.5" x2="284" y2="344.3" stroke="#000" stroke-width="1.1" stroke-dasharray="2.6,1.8"/>
<circle cx="386.20" cy="225.80" r="2.4" fill="#fff" stroke="#000" stroke-width="1.1"/>
<circle cx="383.80" cy="232.90" r="2.4" fill="#fff" stroke="#000" stroke-width="1.1"/>
<circle cx="391.00" cy="241.20" r="2.4" fill="#fff" stroke="#000" stroke-width="1.1"/>
<circle cx="361.20" cy="250.80" r="2.4" fill="#fff" stroke="#000" stroke-width="1.1"/>
<circle cx="370.80" cy="250.80" r="2.4" fill="#fff" stroke="#000" stroke-width="1.1"/>
<circle cx="348.70" cy="256.20" r="2.4" fill="#fff" stroke="#000" stroke-width="1.1"/>
<circle cx="368.50" cy="256.20" r="2.4" fill="#fff" stroke="#000" stroke-width="1.1"/>
<circle cx="373.70" cy="256.20" r="2.4" fill="#fff" stroke="#000" stroke-width="1.1"/>
<circle cx="366.00" cy="261.30" r="2.4" fill="#fff" stroke="#000" stroke-width="1.1"/>
<circle cx="341.00" cy="265.80" r="2.4" fill="#fff" stroke="#000" stroke-width="1.1"/>
<circle cx="348.00" cy="266.20" r="2.4" fill="#fff" stroke="#000" stroke-width="1.1"/>
<circle cx="351.50" cy="268.50" r="2.4" fill="#fff" stroke="#000" stroke-width="1.1"/>
<circle cx="348.70" cy="271.50" r="2.4" fill="#fff" stroke="#000" stroke-width="1.1"/>
<circle cx="368.50" cy="268.50" r="2.4" fill="#fff" stroke="#000" stroke-width="1.1"/>
<circle cx="380.80" cy="265.80" r="2.4" fill="#fff" stroke="#000" stroke-width="1.1"/>
<circle cx="370.80" cy="273.80" r="2.4" fill="#fff" stroke="#000" stroke-width="1.1"/>
<circle cx="368.50" cy="279.00" r="2.4" fill="#fff" stroke="#000" stroke-width="1.1"/>
<circle cx="342.90" cy="283.80" r="2.4" fill="#fff" stroke="#000" stroke-width="1.1"/>
<circle cx="348.00" cy="283.80" r="2.4" fill="#fff" stroke="#000" stroke-width="1.1"/>
<circle cx="282.80" cy="263.40" r="2.4" fill="#fff" stroke="#000" stroke-width="1.1"/>
<circle cx="325.40" cy="256.20" r="2.4" fill="#fff" stroke="#000" stroke-width="1.1"/>
<circle cx="323.10" cy="266.20" r="2.4" fill="#fff" stroke="#000" stroke-width="1.1"/>
<circle cx="323.10" cy="268.90" r="2.4" fill="#fff" stroke="#000" stroke-width="1.1"/>
<circle cx="337.70" cy="265.80" r="2.4" fill="#fff" stroke="#000" stroke-width="1.1"/>
<circle cx="340.80" cy="265.80" r="2.4" fill="#fff" stroke="#000" stroke-width="1.1"/>
<circle cx="348.50" cy="255.70" r="2.4" fill="#fff" stroke="#000" stroke-width="1.1"/>
<circle cx="351.10" cy="268.50" r="2.4" fill="#fff" stroke="#000" stroke-width="1.1"/>
<circle cx="335.70" cy="276.60" r="2.4" fill="#fff" stroke="#000" stroke-width="1.1"/>
<circle cx="323.10" cy="301.20" r="2.4" fill="#fff" stroke="#000" stroke-width="1.1"/>
<circle cx="310.80" cy="303.80" r="2.4" fill="#fff" stroke="#000" stroke-width="1.1"/>
<circle cx="363.10" cy="241.20" r="2.8" fill="#000"/>
<circle cx="372.70" cy="243.10" r="2.8" fill="#000"/>
<circle cx="375.60" cy="245.40" r="2.8" fill="#000"/>
<circle cx="393.80" cy="235.80" r="2.8" fill="#000"/>
<polygon points="385.20,245.50 386.46,248.06 389.29,248.47 387.24,250.46 387.73,253.28 385.20,251.95 382.67,253.28 383.16,250.46 381.11,248.47 383.94,248.06" fill="#000" stroke="none" stroke-width="1" />
<rect x="376.70" y="230.60" width="4.60" height="4.60" fill="#999" stroke="#000" stroke-width="1.1" />
<rect x="378.70" y="243.70" width="4.60" height="4.60" fill="#999" stroke="#000" stroke-width="1.1" />
<rect x="355.60" y="253.90" width="4.60" height="4.60" fill="#999" stroke="#000" stroke-width="1.1" />
<rect x="373.30" y="258.50" width="4.60" height="4.60" fill="#999" stroke="#000" stroke-width="1.1" />
<rect x="358.90" y="265.80" width="4.60" height="4.60" fill="#999" stroke="#000" stroke-width="1.1" />
<rect x="355.40" y="253.10" width="4.60" height="4.60" fill="#999" stroke="#000" stroke-width="1.1" />
<rect x="356.90" y="266.20" width="4.60" height="4.60" fill="#999" stroke="#000" stroke-width="1.1" />
<rect x="281.40" y="324.80" width="4.60" height="4.60" fill="#999" stroke="#000" stroke-width="1.1" />
<rect x="285.60" y="342.10" width="4.60" height="4.60" fill="#999" stroke="#000" stroke-width="1.1" />
<polygon points="305.30,274.81 313.10,274.81 309.20,267.80" fill="#fff" stroke="#000" stroke-width="1.1" />
<polygon points="315.30,292.21 323.10,292.21 319.20,285.19" fill="#fff" stroke="#000" stroke-width="1.1" />
<polygon points="332.30,287.12 340.10,287.12 336.20,280.10" fill="#fff" stroke="#000" stroke-width="1.1" />
<polygon points="305.30,307.12 313.10,307.12 309.20,300.10" fill="#fff" stroke="#000" stroke-width="1.1" />
<polygon points="300.60,286.90 304.30,283.20 308.00,286.90 304.30,290.60" fill="#fff" stroke="#000" stroke-width="1.1" />
<polygon points="320.90,286.90 324.60,283.20 328.30,286.90 324.60,290.60" fill="#fff" stroke="#000" stroke-width="1.1" />
<polygon points="282.80,299.70 286.50,296.00 290.20,299.70 286.50,303.40" fill="#fff" stroke="#000" stroke-width="1.1" />
<polygon points="280.50,337.30 284.20,333.60 287.90,337.30 284.20,341.00" fill="#fff" stroke="#000" stroke-width="1.1" />
<rect x="444.80" y="212.20" width="41.20" height="34.50" fill="#fff" stroke="#777" stroke-width="1" />
<text x="447.3" y="222.2" font-size="8.5" fill="#000" stroke="#000" stroke-width="0.15" >r=0.66</text>
<text x="447.3" y="233.0" font-size="8.5" fill="#000" stroke="#000" stroke-width="0.15" >z=4.687</text>
<text x="447.3" y="242.4" font-size="8.5" font-family="Liberation Sans, sans-serif" stroke="#000" stroke-width="0.15"><tspan font-style="italic">P</tspan> &lt; .0001</text>
<rect x="430.30" y="258.20" width="88.60" height="54.00" fill="#fff" stroke="#777" stroke-width="1" />
<circle cx="438.00" cy="263.50" r="2.6" fill="#000"/>
<text x="446.5" y="266.3" font-size="7.8" fill="#000" stroke="#000" stroke-width="0.15" >t(17;19)</text>
<text x="494.8" y="266.3" font-size="7.8" fill="#000" stroke="#000" stroke-width="0.15" >(n=4)</text>
<circle cx="438.00" cy="273.35" r="2.2" fill="#fff" stroke="#000" stroke-width="1.1"/>
<text x="446.5" y="276.15000000000003" font-size="7.8" fill="#000" stroke="#000" stroke-width="0.15" >other (B-pre)</text>
<text x="494.8" y="276.15000000000003" font-size="7.8" fill="#000" stroke="#000" stroke-width="0.15" >(n=28)</text>
<polygon points="434.60,286.09 441.40,286.09 438.00,279.97" fill="#fff" stroke="#000" stroke-width="1.1" />
<text x="446.5" y="286.0" font-size="7.8" fill="#000" stroke="#000" stroke-width="0.15" >Burkitt's</text>
<text x="494.8" y="286.0" font-size="7.8" fill="#000" stroke="#000" stroke-width="0.15" >(n=4)</text>
<polygon points="434.70,293.05 438.00,289.75 441.30,293.05 438.00,296.35" fill="#fff" stroke="#000" stroke-width="1.1" />
<text x="446.5" y="295.85" font-size="7.8" fill="#000" stroke="#000" stroke-width="0.15" >EBVT B-cell</text>
<text x="494.8" y="295.85" font-size="7.8" fill="#000" stroke="#000" stroke-width="0.15" >(n=4)</text>
<rect x="435.80" y="300.70" width="4.40" height="4.40" fill="#999" stroke="#000" stroke-width="1.1" />
<text x="446.5" y="305.7" font-size="7.8" fill="#000" stroke="#000" stroke-width="0.15" >T-cell</text>
<text x="494.8" y="305.7" font-size="7.8" fill="#000" stroke="#000" stroke-width="0.15" >(n=7)</text>
<text x="-1.0" y="402.4" font-size="15.8" font-weight="bold" fill="#000" >E</text>
<text x="7.3" y="447.6" font-size="9.35" text-anchor="middle" transform="rotate(-90 7.3 447.6)" font-family="Liberation Sans, sans-serif" stroke="#000" stroke-width="0.15">Relative expression</text>
<text x="14.5" y="403.29999999999995" font-size="6.8" textLength="9.8" lengthAdjust="spacingAndGlyphs" fill="#222" stroke="#222" stroke-width="0.15" >1.0</text>
<text x="14.5" y="423.63999999999993" font-size="6.8" textLength="9.8" lengthAdjust="spacingAndGlyphs" fill="#222" stroke="#222" stroke-width="0.15" >0.8</text>
<text x="14.5" y="443.97999999999996" font-size="6.8" textLength="9.8" lengthAdjust="spacingAndGlyphs" fill="#222" stroke="#222" stroke-width="0.15" >0.6</text>
<text x="14.5" y="464.31999999999994" font-size="6.8" textLength="9.8" lengthAdjust="spacingAndGlyphs" fill="#222" stroke="#222" stroke-width="0.15" >0.4</text>
<text x="14.5" y="484.65999999999997" font-size="6.8" textLength="9.8" lengthAdjust="spacingAndGlyphs" fill="#222" stroke="#222" stroke-width="0.15" >0.2</text>
<text x="24.2" y="504.99999999999994" font-size="6.8" text-anchor="end" fill="#222" stroke="#222" stroke-width="0.15" >0</text>
<polygon points="32.10,502.90 57.00,487.50 195.40,504.20 184.60,523.30" fill="#dedede" stroke="#666" stroke-width="0.6" />
<polygon points="51.40,391.30 199.40,400.00 195.40,504.20 57.00,487.50" fill="#fff" stroke="none" stroke-width="1" />
<polygon points="28.20,399.40 51.40,391.30 57.00,487.50 32.10,502.90" fill="#fff" stroke="none" stroke-width="1" />
<line x1="51.96" y1="400.92" x2="199.00" y2="410.42" stroke="#555" stroke-width="0.7" />
<line x1="28.59" y1="409.75" x2="51.96" y2="400.92" stroke="#555" stroke-width="0.7" />
<line x1="52.52" y1="410.54" x2="198.60" y2="420.84" stroke="#555" stroke-width="0.7" />
<line x1="28.98" y1="420.10" x2="52.52" y2="410.54" stroke="#555" stroke-width="0.7" />
<line x1="53.08" y1="420.16" x2="198.20" y2="431.26" stroke="#555" stroke-width="0.7" />
<line x1="29.37" y1="430.45" x2="53.08" y2="420.16" stroke="#555" stroke-width="0.7" />
<line x1="53.64" y1="429.78" x2="197.80" y2="441.68" stroke="#555" stroke-width="0.7" />
<line x1="29.76" y1="440.80" x2="53.64" y2="429.78" stroke="#555" stroke-width="0.7" />
<line x1="54.20" y1="439.40" x2="197.40" y2="452.10" stroke="#555" stroke-width="0.7" />
<line x1="30.15" y1="451.15" x2="54.20" y2="439.40" stroke="#555" stroke-width="0.7" />
<line x1="54.76" y1="449.02" x2="197.00" y2="462.52" stroke="#555" stroke-width="0.7" />
<line x1="30.54" y1="461.50" x2="54.76" y2="449.02" stroke="#555" stroke-width="0.7" />
<line x1="55.32" y1="458.64" x2="196.60" y2="472.94" stroke="#555" stroke-width="0.7" />
<line x1="30.93" y1="471.85" x2="55.32" y2="458.64" stroke="#555" stroke-width="0.7" />
<line x1="55.88" y1="468.26" x2="196.20" y2="483.36" stroke="#555" stroke-width="0.7" />
<line x1="31.32" y1="482.20" x2="55.88" y2="468.26" stroke="#555" stroke-width="0.7" />
<line x1="56.44" y1="477.88" x2="195.80" y2="493.78" stroke="#555" stroke-width="0.7" />
<line x1="31.71" y1="492.55" x2="56.44" y2="477.88" stroke="#555" stroke-width="0.7" />
<line x1="51.4" y1="391.3" x2="199.4" y2="400" stroke="#555" stroke-width="0.8" stroke-dasharray="3,1.6"/>
<line x1="57" y1="487.5" x2="195.4" y2="504.2" stroke="#666" stroke-width="0.7" stroke-dasharray="2,1.4"/>
<line x1="199.40" y1="400.00" x2="195.40" y2="504.20" stroke="#666" stroke-width="0.7" />
<line x1="28.20" y1="399.40" x2="51.40" y2="391.30" stroke="#444" stroke-width="0.8" />
<line x1="28.20" y1="399.40" x2="32.10" y2="502.90" stroke="#444" stroke-width="0.8" />
<line x1="32.10" y1="502.90" x2="57.00" y2="487.50" stroke="#666" stroke-width="0.6" />
<polygon points="56.00,393.60 64.50,392.60 64.30,492.30 55.80,493.30" fill="#242424" stroke="#333" stroke-width="0.5" />
<polygon points="50.10,393.60 58.60,392.60 64.50,392.60 56.00,393.60" fill="#5a5a5a" stroke="#333" stroke-width="0.5" />
<polygon points="50.10,393.60 56.00,393.60 55.80,493.30 49.90,493.30" fill="#404040" stroke="#333" stroke-width="0.5" />
<polygon points="82.50,429.60 88.70,428.60 89.30,494.60 83.10,495.60" fill="#262626" stroke="#333" stroke-width="0.5" />
<polygon points="77.90,429.60 84.10,428.60 88.70,428.60 82.50,429.60" fill="#5a5a5a" stroke="#333" stroke-width="0.5" />
<polygon points="77.90,429.60 82.50,429.60 83.10,495.60 78.50,495.60" fill="#3a3a3a" stroke="#333" stroke-width="0.5" />
<polygon points="48.10,398.90 53.20,397.10 56.30,499.40 51.20,501.20" fill="#a4a4a4" stroke="#333" stroke-width="0.5" />
<polygon points="38.70,398.90 43.80,397.10 53.20,397.10 48.10,398.90" fill="#c4c4c4" stroke="#333" stroke-width="0.5" />
<polygon points="38.70,398.90 48.10,398.90 51.20,501.20 41.80,501.20" fill="#f4f4f4" stroke="#333" stroke-width="0.5" />
<polygon points="73.20,423.90 77.90,421.70 79.10,502.40 74.40,504.60" fill="#a4a4a4" stroke="#333" stroke-width="0.5" />
<polygon points="64.10,423.90 68.80,421.70 77.90,421.70 73.20,423.90" fill="#c4c4c4" stroke="#333" stroke-width="0.5" />
<polygon points="64.10,423.90 73.20,423.90 74.40,504.60 65.30,504.60" fill="#f4f4f4" stroke="#333" stroke-width="0.5" />
<polygon points="99.00,496.60 107.00,497.56 107.00,499.16 99.00,498.20" fill="#111" stroke="#111" stroke-width="0.5" />
<polygon points="99.00,496.60 101.60,494.20 109.60,495.16 107.00,497.56" fill="#1e1e1e" stroke="#111" stroke-width="0.5" />
<polygon points="122.60,500.00 131.40,501.06 131.40,502.66 122.60,501.60" fill="#111" stroke="#111" stroke-width="0.5" />
<polygon points="122.60,500.00 125.40,497.60 134.20,498.66 131.40,501.06" fill="#1e1e1e" stroke="#111" stroke-width="0.5" />
<polygon points="147.80,503.10 156.60,504.16 156.60,505.76 147.80,504.70" fill="#111" stroke="#111" stroke-width="0.5" />
<polygon points="147.80,503.10 150.60,500.70 159.40,501.76 156.60,504.16" fill="#1e1e1e" stroke="#111" stroke-width="0.5" />
<polygon points="173.30,500.60 184.00,501.80 184.00,507.00 173.30,505.80" fill="#2a2a2a" stroke="#111" stroke-width="0.5" />
<polygon points="173.30,500.60 176.00,498.40 186.60,499.60 184.00,501.80" fill="#3a3a3a" stroke="#111" stroke-width="0.5" />
<polygon points="184.00,501.80 186.60,499.60 186.60,504.80 184.00,507.00" fill="#111" stroke="#111" stroke-width="0.5" />
<polygon points="90.80,504.80 100.20,505.93 100.20,507.53 90.80,506.40" fill="#9a9a9a" stroke="#555" stroke-width="0.5" />
<polygon points="90.80,504.80 93.20,502.20 102.60,503.33 100.20,505.93" fill="#f2f2f2" stroke="#555" stroke-width="0.5" />
<polygon points="114.40,510.20 123.80,511.33 123.80,512.83 114.40,511.70" fill="#9a9a9a" stroke="#666" stroke-width="0.5" />
<polygon points="114.40,510.20 116.80,507.80 126.20,508.93 123.80,511.33" fill="#d8d8d8" stroke="#666" stroke-width="0.5" />
<polygon points="139.60,513.00 149.00,514.13 149.00,515.63 139.60,514.50" fill="#9a9a9a" stroke="#666" stroke-width="0.5" />
<polygon points="139.60,513.00 142.00,510.60 151.40,511.73 149.00,514.13" fill="#d8d8d8" stroke="#666" stroke-width="0.5" />
<polygon points="166.60,515.60 176.00,516.73 176.00,518.23 166.60,517.10" fill="#9a9a9a" stroke="#666" stroke-width="0.5" />
<polygon points="166.60,515.60 169.00,513.20 178.40,514.33 176.00,516.73" fill="#d8d8d8" stroke="#666" stroke-width="0.5" />
<text x="196.6" y="516.4" font-size="9.8" transform="rotate(4 196.6 516.4)" textLength="35" lengthAdjust="spacingAndGlyphs" font-family="Liberation Sans, sans-serif" stroke="#000" stroke-width="0.15">exon 4/5</text>
<text x="191.2" y="525.8" font-size="9.8" transform="rotate(4 191.2 525.8)" textLength="36" lengthAdjust="spacingAndGlyphs" font-family="Liberation Sans, sans-serif" stroke="#000" stroke-width="0.15">exon 1/2</text>
<text x="44" y="515.5" font-size="9.6" text-anchor="end" transform="rotate(-34 44 515.5)" font-family="Liberation Sans, sans-serif" stroke="#000" stroke-width="0.15">UOC-B1</text>
<text x="69.9" y="516.2" font-size="9.6" text-anchor="end" transform="rotate(-34 69.9 516.2)" font-family="Liberation Sans, sans-serif" stroke="#000" stroke-width="0.15">CB CD34+CD19-</text>
<text x="96.4" y="519.4" font-size="9.6" text-anchor="end" transform="rotate(-34 96.4 519.4)" font-family="Liberation Sans, sans-serif" stroke="#000" stroke-width="0.15">CB CD34+CD19+</text>
<text x="121.2" y="526.6" font-size="9.6" text-anchor="end" transform="rotate(-34 121.2 526.6)" font-family="Liberation Sans, sans-serif" stroke="#000" stroke-width="0.15">CB CD19+IgM-</text>
<text x="145.6" y="529" font-size="9.6" text-anchor="end" transform="rotate(-34 145.6 529)" font-family="Liberation Sans, sans-serif" stroke="#000" stroke-width="0.15">CB CD19+IgM+</text>
<text x="174.1" y="529.7" font-size="9.6" text-anchor="end" transform="rotate(-34 174.1 529.7)" font-family="Liberation Sans, sans-serif" stroke="#000" stroke-width="0.15">PB CD19+</text>
<text x="250.0" y="401.9" font-size="15.0" font-weight="bold" fill="#000" >F</text>
<defs><pattern id="grid2" x="279.2" y="0" width="11.5" height="1.6" patternUnits="userSpaceOnUse"><rect width="11.5" height="1.6" fill="#adadad"/><path d="M0 0.3H11.5" stroke="#9d9d9d" stroke-width="0.6"/><path d="M0.8 0V1.6M2.4 0V1.6M4 0V1.6M5.6 0V1.6M7.2 0V1.6M8.8 0V1.6M10.4 0V1.6" stroke="#a0a0a0" stroke-width="0.5"/><path d="M7.5 0V1.6" stroke="#858585" stroke-width="0.7"/></pattern></defs>
<rect x="279.20" y="405.80" width="189.40" height="30.00" fill="url(#grid2)" stroke="none" stroke-width="1" />
<rect x="279.20" y="491.20" width="189.40" height="27.90" fill="url(#grid2)" stroke="none" stroke-width="1" />
<line x1="279.20" y1="405.80" x2="468.60" y2="405.80" stroke="#777" stroke-width="0.8" />
<line x1="279.20" y1="491.20" x2="468.60" y2="491.20" stroke="#888" stroke-width="0.6" />
<line x1="279.20" y1="405.80" x2="279.20" y2="519.60" stroke="#000" stroke-width="1.4" />
<line x1="278.50" y1="519.10" x2="469.00" y2="519.10" stroke="#000" stroke-width="1.4" />
<line x1="279.20" y1="519.10" x2="283.50" y2="519.10" stroke="#000" stroke-width="1.1" />
<line x1="279.20" y1="507.84" x2="282.40" y2="507.84" stroke="#000" stroke-width="1.1" />
<line x1="279.20" y1="496.58" x2="283.50" y2="496.58" stroke="#000" stroke-width="1.1" />
<line x1="279.20" y1="485.32" x2="282.40" y2="485.32" stroke="#000" stroke-width="1.1" />
<line x1="279.20" y1="474.06" x2="283.50" y2="474.06" stroke="#000" stroke-width="1.1" />
<line x1="279.20" y1="462.80" x2="282.40" y2="462.80" stroke="#000" stroke-width="1.1" />
<line x1="279.20" y1="451.54" x2="283.50" y2="451.54" stroke="#000" stroke-width="1.1" />
<line x1="279.20" y1="440.28" x2="282.40" y2="440.28" stroke="#000" stroke-width="1.1" />
<line x1="279.20" y1="429.02" x2="283.50" y2="429.02" stroke="#000" stroke-width="1.1" />
<line x1="279.20" y1="417.76" x2="282.40" y2="417.76" stroke="#000" stroke-width="1.1" />
<line x1="279.20" y1="406.50" x2="283.50" y2="406.50" stroke="#000" stroke-width="1.1" />
<text x="275.3" y="521.7" font-size="6.8" text-anchor="end" fill="#222" stroke="#222" stroke-width="0.15" >0</text>
<text x="265.3" y="499.18000000000006" font-size="6.8" textLength="10" lengthAdjust="spacingAndGlyphs" fill="#222" stroke="#222" stroke-width="0.15" >0.2</text>
<text x="265.3" y="476.66" font-size="6.8" textLength="10" lengthAdjust="spacingAndGlyphs" fill="#222" stroke="#222" stroke-width="0.15" >0.4</text>
<text x="265.3" y="454.14000000000004" font-size="6.8" textLength="10" lengthAdjust="spacingAndGlyphs" fill="#222" stroke="#222" stroke-width="0.15" >0.6</text>
<text x="265.3" y="431.62000000000006" font-size="6.8" textLength="10" lengthAdjust="spacingAndGlyphs" fill="#222" stroke="#222" stroke-width="0.15" >0.8</text>
<text x="265.3" y="409.1" font-size="6.8" textLength="10" lengthAdjust="spacingAndGlyphs" fill="#222" stroke="#222" stroke-width="0.15" >1.0</text>
<line x1="320.50" y1="519.10" x2="320.50" y2="523.50" stroke="#000" stroke-width="1.1" />
<line x1="373.20" y1="519.10" x2="373.20" y2="523.50" stroke="#000" stroke-width="1.1" />
<line x1="425.20" y1="519.10" x2="425.20" y2="523.50" stroke="#000" stroke-width="1.1" />
<text x="260" y="453.4" font-size="9.5" text-anchor="middle" textLength="79" lengthAdjust="spacing" transform="rotate(-90 260 453.4)" font-family="Liberation Sans, sans-serif" stroke="#000" stroke-width="0.15">Ratio (distal/total)</text>
<text x="394.2" y="430.4" font-size="7.6" textLength="67.5" lengthAdjust="spacingAndGlyphs" fill="#222" stroke="#222" stroke-width="0.15" >Distal predominant</text>
<text x="384.6" y="514.6" font-size="7.6" textLength="76.4" lengthAdjust="spacingAndGlyphs" fill="#222" stroke="#222" stroke-width="0.15" >Proximalpredominant</text>
<circle cx="321.70" cy="424.10" r="2.7" fill="#000"/>
<circle cx="321.70" cy="456.30" r="2.7" fill="#000"/>
<circle cx="321.70" cy="471.10" r="2.7" fill="#000"/>
<circle cx="321.70" cy="488.50" r="2.7" fill="#000"/>
<circle cx="373.20" cy="407.60" r="2.4" fill="#fff" stroke="#000" stroke-width="1.1"/>
<circle cx="373.20" cy="426.50" r="2.4" fill="#fff" stroke="#000" stroke-width="1.1"/>
<circle cx="373.20" cy="439.20" r="2.4" fill="#fff" stroke="#000" stroke-width="1.1"/>
<circle cx="373.20" cy="444.40" r="2.4" fill="#fff" stroke="#000" stroke-width="1.1"/>
<circle cx="367.90" cy="449.40" r="2.4" fill="#fff" stroke="#000" stroke-width="1.1"/>
<circle cx="373.20" cy="449.40" r="2.4" fill="#fff" stroke="#000" stroke-width="1.1"/>
<circle cx="378.60" cy="449.40" r="2.4" fill="#fff" stroke="#000" stroke-width="1.1"/>
<circle cx="367.90" cy="453.50" r="2.4" fill="#fff" stroke="#000" stroke-width="1.1"/>
<circle cx="378.60" cy="452.50" r="2.4" fill="#fff" stroke="#000" stroke-width="1.1"/>
<circle cx="367.90" cy="457.00" r="2.4" fill="#fff" stroke="#000" stroke-width="1.1"/>
<circle cx="373.20" cy="459.00" r="2.4" fill="#fff" stroke="#000" stroke-width="1.1"/>
<circle cx="373.20" cy="464.20" r="2.4" fill="#fff" stroke="#000" stroke-width="1.1"/>
<circle cx="373.20" cy="454.00" r="2.4" fill="#fff" stroke="#000" stroke-width="1.1"/>
<circle cx="370.30" cy="486.20" r="2.4" fill="#fff" stroke="#000" stroke-width="1.1"/>
<circle cx="376.30" cy="486.20" r="2.4" fill="#fff" stroke="#000" stroke-width="1.1"/>
<circle cx="370.30" cy="496.40" r="2.4" fill="#fff" stroke="#000" stroke-width="1.1"/>
<circle cx="376.30" cy="496.40" r="2.4" fill="#fff" stroke="#000" stroke-width="1.1"/>
<circle cx="370.30" cy="501.20" r="2.4" fill="#fff" stroke="#000" stroke-width="1.1"/>
<circle cx="376.30" cy="503.60" r="2.4" fill="#fff" stroke="#000" stroke-width="1.1"/>
<circle cx="373.20" cy="514.30" r="2.4" fill="#fff" stroke="#000" stroke-width="1.1"/>
<circle cx="370.30" cy="518.60" r="2.4" fill="#fff" stroke="#000" stroke-width="1.1"/>
<circle cx="376.30" cy="518.60" r="2.4" fill="#fff" stroke="#000" stroke-width="1.1"/>
<rect x="420.10" y="406.10" width="4.60" height="4.60" fill="#bbb" stroke="#000" stroke-width="1.1" />
<rect x="425.70" y="406.10" width="4.60" height="4.60" fill="#bbb" stroke="#000" stroke-width="1.1" />
<rect x="422.90" y="464.30" width="4.60" height="4.60" fill="#999" stroke="#000" stroke-width="1.1" />
<rect x="422.90" y="471.50" width="4.60" height="4.60" fill="#999" stroke="#000" stroke-width="1.1" />
<rect x="422.90" y="494.10" width="4.60" height="4.60" fill="#999" stroke="#000" stroke-width="1.1" />
<text x="301.5" y="535.2" font-size="10.2" textLength="33.9" lengthAdjust="spacingAndGlyphs" fill="#000" stroke="#000" stroke-width="0.15" >t(17;19)</text>
<text x="346.9" y="535.2" font-size="10.2" textLength="53.9" lengthAdjust="spacingAndGlyphs" fill="#000" stroke="#000" stroke-width="0.15" >B-precursor</text>
<text x="414.2" y="535.2" font-size="10.2" textLength="23.8" lengthAdjust="spacingAndGlyphs" fill="#000" stroke="#000" stroke-width="0.15" >T-cell</text>
<text x="320" y="551.0" font-size="7.8" text-anchor="middle" fill="#000" stroke="#000" stroke-width="0.15" >(n=4)</text>
<text x="373" y="551.0" font-size="7.8" text-anchor="middle" fill="#000" stroke="#000" stroke-width="0.15" >(n=21)</text>
<text x="425.8" y="551.0" font-size="7.8" text-anchor="middle" fill="#000" stroke="#000" stroke-width="0.15" >(n=5)</text>
</svg>
</body></html>
